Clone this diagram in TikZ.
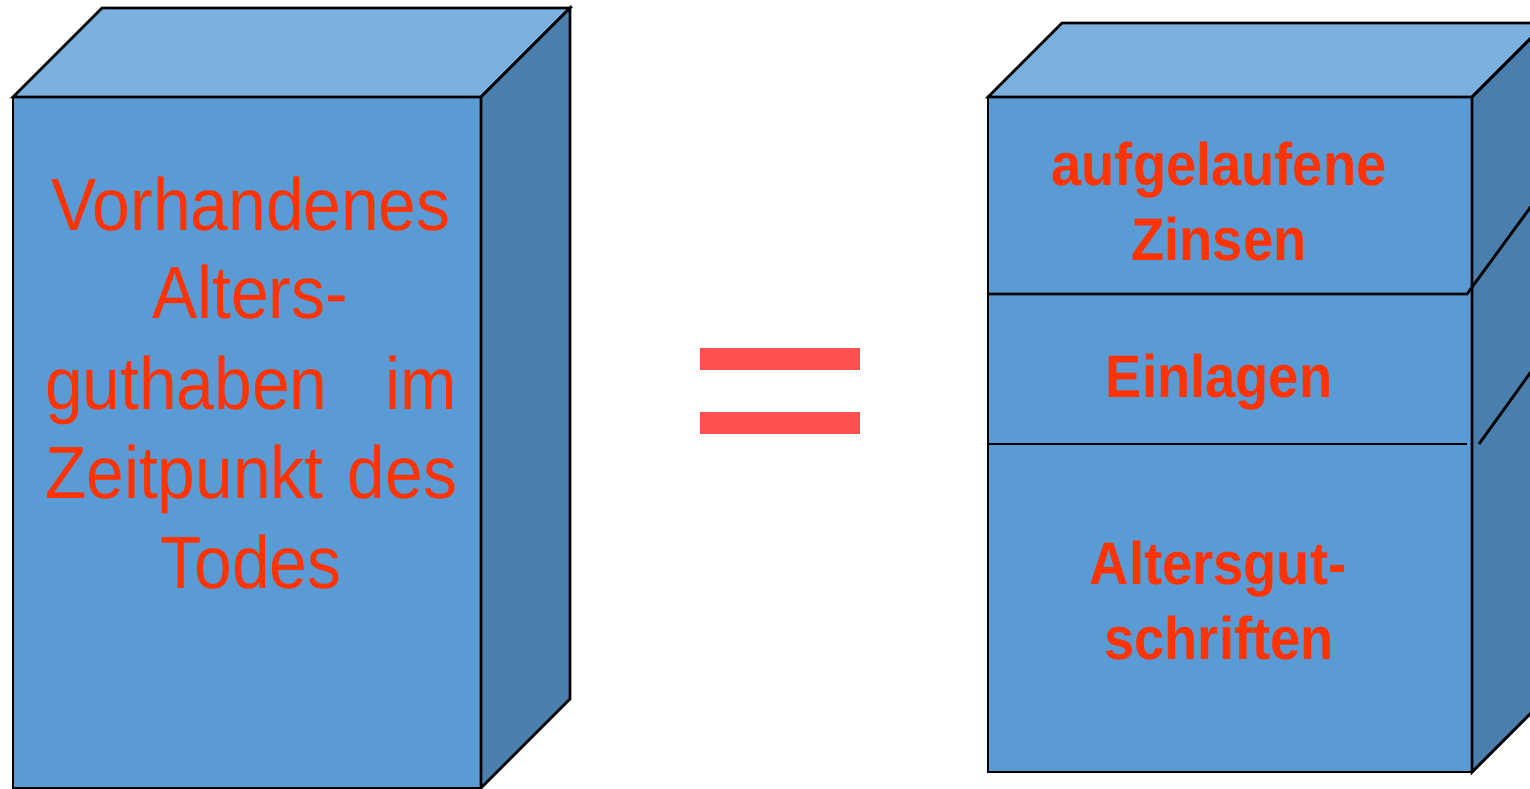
\documentclass[tikz,border=0pt]{standalone}
\usepackage{fontspec}
\setmainfont{Liberation Sans}[FakeStretch=0.915]
\newfontfamily\labelbold{Liberation Sans Bold}[FakeStretch=0.905]
\definecolor{frontblue}{HTML}{5B9BD5}
\definecolor{topblue}{HTML}{7BAFDD}
\definecolor{sideblue}{HTML}{4A7EAD}
\definecolor{labelred}{HTML}{FF3300}
\definecolor{eqred}{HTML}{FF5050}
\begin{document}
\begin{tikzpicture}[x=1pt,y=-1pt,
  face/.style={draw=black,line width=2.8pt,line join=miter},
  divider/.style={draw=black,line width=2.8pt},
  bigline/.style={text=labelred,anchor=base,inner sep=0pt,
    font=\fontsize{74}{89}\selectfont},
  wideline/.style={bigline,text width=412pt,align=left},
  boldline/.style={text=labelred,anchor=base,inner sep=0pt,
    font=\fontsize{60}{75}\selectfont\labelbold},
  eqbar/.style={fill=eqred,draw=none}]
\useasboundingbox (0,0) rectangle (1530,789);
\clip (0,0) rectangle (1530,789);

% left block
\path[face,fill=frontblue] (13,97) rectangle (481,788);
\path[face,fill=topblue] (13,97) -- (102,8) -- (570,8) -- (481,97) -- cycle;
\path[face,fill=sideblue] (481,97) -- (570,8) -- (570,699) -- (481,788) -- cycle;

\node[bigline] (v1) at (251,230) {Vorhandenes};
\node[bigline] (v2) at (250,318) {Alters-};
\node[wideline] (v3) at (251,409) {guthaben\hfill im};
\node[wideline] (v4) at (251,498) {Zeitpunkt\hfill des};
\node[bigline] (v5) at (251,588) {Todes};

% equals sign
\path[eqbar] (700,348) rectangle (860,370);
\path[eqbar] (700,412) rectangle (860,434);

% right block
\path[face,fill=frontblue] (988,97) rectangle (1472,772);
\path[face,fill=topblue] (988,97) -- (1062,23) -- (1546,23) -- (1472,97) -- cycle;
\path[face,fill=sideblue] (1472,97) -- (1546,23) -- (1546,698) -- (1472,772) -- cycle;

\draw[divider] (988,294) -- (1467,294) -- (1546,186);
\draw[divider] (988,444) -- (1467,444);
\draw[divider] (1479,444) -- (1546,351);

\node[boldline] (r1) at (1219,185) {aufgelaufene};
\node[boldline] (r2) at (1219,260) {Zinsen};
\node[boldline] (r3) at (1219,397) {Einlagen};
\node[boldline] (r4) at (1218,584) {Altersgut-};
\node[boldline] (r5) at (1219,659) {schriften};
\end{tikzpicture}
\end{document}
